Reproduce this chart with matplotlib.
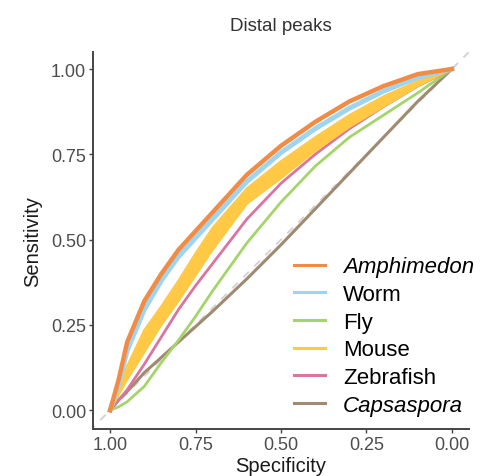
import matplotlib
matplotlib.use("Agg")
import matplotlib.pyplot as plt
from matplotlib.lines import Line2D
import numpy as np

plt.rcParams['font.family'] = ['Liberation Sans', 'DejaVu Sans']

# false positive rate grid (1 - specificity) the curves were read at
fpr = np.array([0, 0.025, 0.05, 0.1, 0.15, 0.2, 0.25, 0.3, 0.4, 0.5, 0.6, 0.7, 0.8, 0.9, 1.0])
specificity = 1 - fpr

# sensitivity
amphimedon = [0, 0.09, 0.20, 0.32, 0.40, 0.47, 0.525, 0.58, 0.69, 0.775, 0.845, 0.905, 0.95, 0.985, 1.0]
worm = [0, 0.075, 0.175, 0.295, 0.38, 0.45, 0.505, 0.56, 0.67, 0.755, 0.825, 0.885, 0.935, 0.975, 1.0]
mouse_hi = [0, 0.07, 0.13, 0.235, 0.305, 0.38, 0.46, 0.535, 0.65, 0.73, 0.80, 0.865, 0.92, 0.965, 1.0]
mouse_lo = [0, 0.045, 0.09, 0.17, 0.25, 0.32, 0.395, 0.47, 0.605, 0.68, 0.76, 0.83, 0.89, 0.95, 1.0]
zebrafish = [0, 0.03, 0.06, 0.135, 0.215, 0.295, 0.365, 0.43, 0.56, 0.665, 0.75, 0.825, 0.89, 0.95, 1.0]
fly = [0, 0.01, 0.025, 0.07, 0.14, 0.205, 0.275, 0.35, 0.49, 0.61, 0.715, 0.80, 0.865, 0.93, 1.0]
capsaspora = [0, 0.03, 0.055, 0.11, 0.155, 0.2, 0.245, 0.29, 0.385, 0.485, 0.59, 0.695, 0.80, 0.905, 1.0]

labels = ['Amphimedon', 'Worm', 'Fly', 'Mouse', 'Zebrafish', 'Capsaspora']
colors = {'Amphimedon': '#F28C45', 'Worm': '#9DD5F0', 'Fly': '#A4D46A',
          'Mouse': '#FFC845', 'Zebrafish': '#D9759F', 'Capsaspora': '#A08A70'}
ticks = [1.00, 0.75, 0.50, 0.25, 0.00]

fig = plt.figure(figsize=(4.85, 4.77), dpi=100)
ax = fig.add_axes([0.1918, 0.0985, 0.7752, 0.7905])

ax.axline((1, 0), (0, 1), color='#d4d4d4', lw=1.4, ls=(0, (4, 4)), zorder=1)

ax.plot(specificity, capsaspora, color=colors['Capsaspora'], lw=2.2, zorder=2)
ax.plot(specificity, fly, color=colors['Fly'], lw=2.0, zorder=3)
ax.plot(specificity, zebrafish, color=colors['Zebrafish'], lw=2.0, zorder=4)
ax.fill_between(specificity, mouse_lo, mouse_hi, color=colors['Mouse'], lw=0, zorder=5)
ax.plot(specificity, mouse_hi, color=colors['Mouse'], lw=1.5, zorder=5)
ax.plot(specificity, mouse_lo, color=colors['Mouse'], lw=1.5, zorder=5)
ax.plot(specificity, worm, color=colors['Worm'], lw=3.5, zorder=6)
ax.plot(specificity, amphimedon, color=colors['Amphimedon'], lw=3.2, zorder=7)

ax.set_xlim(1.05, -0.05)
ax.set_ylim(-0.055, 1.05)
ax.set_xticks(ticks)
ax.set_yticks(ticks)
ax.set_xticklabels(['%.2f' % t for t in ticks])
ax.set_yticklabels(['%.2f' % t for t in ticks])

for side in ['top', 'right']:
    ax.spines[side].set_visible(False)
for side in ['left', 'bottom']:
    ax.spines[side].set_color('#444444')
    ax.spines[side].set_linewidth(1.4)
ax.tick_params(length=3, width=1.0, color='#444444', labelcolor='#4d4d4d', labelsize=13, pad=2)

ax.set_xlabel('Specificity', fontsize=14.5, color='#1a1a1a', labelpad=2)
ax.set_ylabel('Sensitivity', fontsize=14.5, color='#1a1a1a', labelpad=6)
ax.set_title('Distal peaks', fontsize=13.5, color='#333333', pad=16)

handles = [Line2D([], [], color=colors[l], lw=2.2) for l in labels]
leg = ax.legend(handles, labels, loc='lower left', bbox_to_anchor=(0.5, 0.0),
                frameon=False, fontsize=16, handlelength=1.4, handletextpad=0.8,
                labelspacing=0.3, borderaxespad=0.2)
leg.get_texts()[0].set_fontstyle('italic')
leg.get_texts()[5].set_fontstyle('italic')

fig.savefig('out.png', dpi=100)
